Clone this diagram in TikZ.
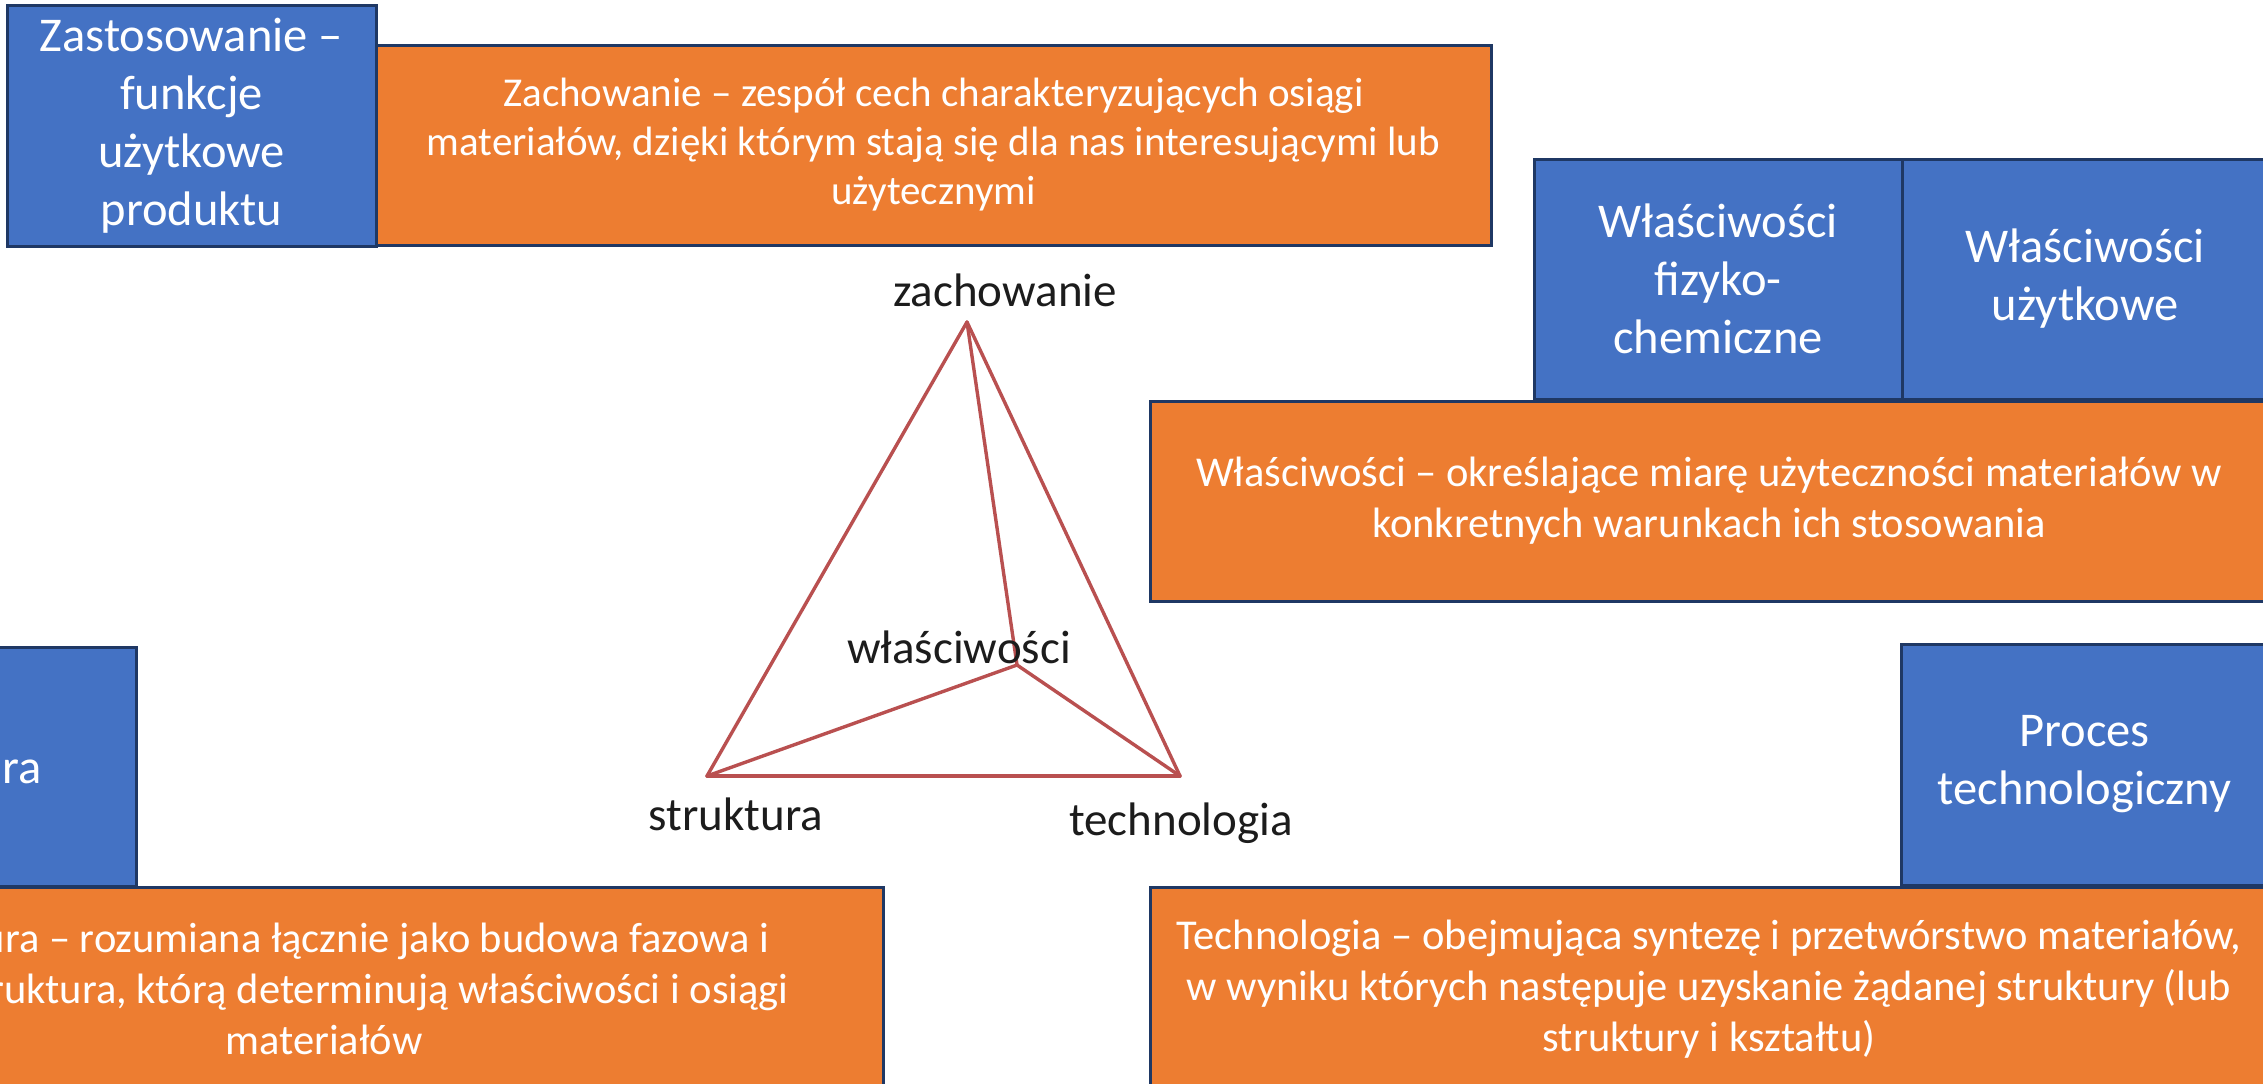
\documentclass[tikz,border=0pt]{standalone}
\usepackage{fontspec}
\setmainfont{Carlito}
\definecolor{boxblue}{HTML}{4472C4}
\definecolor{boxorange}{HTML}{ED7D31}
\definecolor{boxedge}{HTML}{1F3864}
\definecolor{triline}{RGB}{185,80,80}
\definecolor{trilabel}{RGB}{28,28,28}
\tikzset{
  card/.style={draw=boxedge, line width=3pt, inner sep=0pt, align=center, text=white},
  bluecard/.style={card, fill=boxblue, minimum width=368pt, minimum height=240pt,
    font=\fontsize{48.5}{58}\selectfont},
  orangecard/.style={card, fill=boxorange, minimum width=1118pt, minimum height=200pt,
    font=\fontsize{42.5}{51}\selectfont},
  edge/.style={draw=triline, line width=3.4pt, line join=round, line cap=round},
  vertexlabel/.style={anchor=base, text=trilabel, inner sep=0pt,
    font=\fontsize{47}{56}\selectfont}
}
\begin{document}
\begin{tikzpicture}[x=1pt, y=-1pt]
\useasboundingbox (0,0) rectangle (2263,1084);
\clip (0,0) rectangle (2263,1084);
\fill[white] (0,0) rectangle (2263,1084);

% top row
\node[bluecard, minimum width=369pt, minimum height=241pt] (zast) at (191.5,125.5)
  {Zastosowanie –\\funkcje\\użytkowe\\produktu};
\node[orangecard, minimum width=1115pt, font=\fontsize{41}{49}\selectfont] (zach) at (933.5,145)
  {Zachowanie – zespół cech charakteryzujących osiągi\\materiałów, dzięki którym stają się dla nas interesującymi lub\\użytecznymi};

% right: properties
\node[bluecard] (fiz) at (1718,279) {Właściwości\\fizyko-\\chemiczne};
\node[bluecard, minimum width=366pt] (uzyt) at (2085,279) {Właściwości\\użytkowe};
\node[orangecard] (wlas) at (1709,501)
  {Właściwości – określające miarę użyteczności materiałów w\\konkretnych warunkach ich stosowania};

% left: structure
\node[bluecard, minimum width=372pt, minimum height=239pt] (strb) at (-50,766.5) {Struktura};
\node[orangecard, minimum height=204pt] (stro) at (324,989)
  {Struktura – rozumiana łącznie jako budowa fazowa i\\mikrostruktura, którą determinują właściwości i osiągi\\materiałów};

% right: technology
\node[bluecard, minimum width=367pt, minimum height=241pt] (proc) at (2084.5,764.5) {Proces\\technologiczny};
\node[orangecard, minimum height=204pt] (techo) at (1709,989)
  {Technologia – obejmująca syntezę i przetwórstwo materiałów,\\w wyniku których następuje uzyskanie żądanej struktury (lub\\struktury i kształtu)};

% tetrahedron
\coordinate (Z) at (967,322);
\coordinate (S) at (707,776);
\coordinate (T) at (1180,776);
\coordinate (W) at (1017,665);
\draw[edge] (Z) -- (S);
\draw[edge] (Z) -- (T);
\draw[edge] (S) -- (T);
\draw[edge] (Z) -- (W);
\draw[edge] (S) -- (W);
\draw[edge] (T) -- (W);

\node[vertexlabel] (lz) at (1005,306) {zachowanie};
\node[vertexlabel] (lw) at (959,663) {właściwości};
\node[vertexlabel] (ls) at (736,830) {struktura};
\node[vertexlabel] (lt) at (1181,835) {technologia};
\end{tikzpicture}
\end{document}
